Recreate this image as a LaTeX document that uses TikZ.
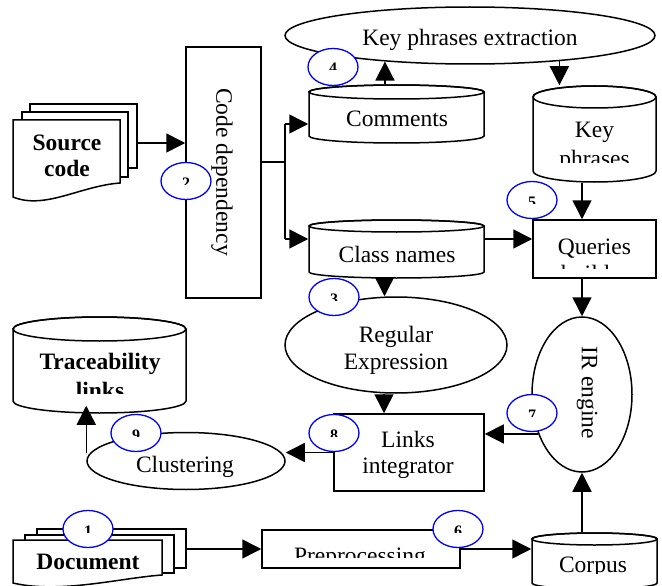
\documentclass[tikz,border=0pt]{standalone}
\usepackage{fontspec}
\setmainfont{Liberation Serif}
\usetikzlibrary{shapes.geometric,arrows.meta}

\tikzset{
  flow/.style={-{Triangle[length=19pt,width=19pt]}},
  proc/.style={draw, fill=white, inner sep=0pt},
  oval/.style={ellipse, draw, fill=white, inner sep=0pt},
  stepmark/.style={ellipse, draw=blue, fill=white, line width=1.3pt, minimum width=50pt, minimum height=37pt, inner sep=0pt},
  txt/.style={anchor=base, inner sep=0pt, font=\fontsize{23.5}{28}\selectfont},
  btxt/.style={txt, font=\fontsize{23.5}{28}\selectfont\bfseries},
  numtxt/.style={anchor=base, inner sep=0pt, font=\fontsize{16}{16}\selectfont\bfseries}
}

\newcommand\drum[6]{
  \node[inner sep=0pt, minimum width={(#4-#2)*1pt}, minimum height={(#5-#3)*1pt}] (#1) at ({(#2+#4)/2},{(#3+#5)/2}) {};
  \draw[fill=white] (#2,{#3+#6}) -- (#2,{#5-#6})
    arc[start angle=180, end angle=360, x radius={(#4-#2)/2*1pt}, y radius=#6pt]
    -- (#4,{#3+#6})
    arc[start angle=0, end angle=180, x radius={(#4-#2)/2*1pt}, y radius=#6pt] -- cycle;
  \draw ({(#2+#4)/2},{#3+#6}) ellipse[x radius={(#4-#2)/2*1pt}, y radius=#6pt];
}

\newcommand\stepno[4]{
  \node[stepmark] (#1) at (#2,#3) {};
  \begin{scope}
    \clip ({#2-15},{#3-15}) rectangle ({#2+15},{#3+3});
    \node[numtxt] (#1n) at (#2,{#3+7}) {#4};
  \end{scope}
}

\begin{document}
\begin{tikzpicture}[x=1pt, y=-1pt, line width=1.5pt]
\fill[white] (0,0) rectangle (662,586);
\useasboundingbox (0,0) rectangle (662,586);

\draw[fill=white] (30,104) rectangle (137,168);
\draw[fill=white] (22,112) rectangle (128,177);
\draw[fill=white] (13,120) -- (120,120) -- (120,183) .. controls (80,186) and (45,210) .. (13,197) -- cycle;
\node[btxt] (src) at (67,150) {Source};
\node[btxt] (src2) at (67,176) {code};
\coordinate (srcout) at (137,143);

\draw[fill=white] (37,529) rectangle (186,568);
\draw[fill=white] (25,535) rectangle (174,573);
\draw[fill=white] (13,540) -- (162,540) -- (162,575) .. controls (120,578) and (60,594) .. (13,583) -- cycle;
\node[btxt] (doc) at (88,569) {Document};
\coordinate (docout) at (186,549);

\node[proc, minimum width=75pt, minimum height=251pt] (dep) at (223.5,172.5) {};
\node[txt, anchor=center, rotate=-90] (deptext) at (222,172) {Code dependency};
\node[oval, minimum width=370pt, minimum height=57pt] (kpe) at (470,35.5) {};
\node[txt] (kpetext) at (470,46) {Key phrases extraction};

\drum{com}{309}{85}{484}{143}{7}
\node[txt] (comtext) at (397,127) {Comments};
\drum{cls}{309}{220}{484}{278}{6}
\node[txt] (clstext) at (397,262) {Class names};
\drum{kp}{533}{86}{656}{182}{11}
\begin{scope}
  \clip (533,86) rectangle (656,162);
  \node[txt] (kptext) at (594.5,138) {Key};
  \node[txt] (kptext2) at (594.5,166) {phrases};
\end{scope}

\node[proc, minimum width=123pt, minimum height=58pt] (qb) at (594.5,249) {};
\begin{scope}
  \clip (533,220) rectangle (656,268);
  \node[txt] (qbtext) at (594.5,254) {Queries};
  \node[txt] (qbtext2) at (594.5,281) {builder};
\end{scope}
\node[oval, minimum width=222pt, minimum height=96pt] (re) at (396,345) {};
\node[txt] (retext) at (396,342) {Regular};
\node[txt] (retext2) at (396,369) {Expression};
\node[oval, minimum width=100pt, minimum height=155pt] (ir) at (582,394.5) {};
\node[txt, anchor=center, rotate=-90] (irtext) at (587,393) {IR engine};
\node[proc, minimum width=150pt, minimum height=77pt] (li) at (409,452.5) {};
\node[txt] (litext) at (408,447) {Links};
\node[txt] (litext2) at (408,473) {integrator};

\drum{tl}{13}{317}{186}{413}{12}
\begin{scope}
  \clip (13,317) rectangle (186,393);
  \node[btxt] (tltext) at (100,369) {Traceability};
  \node[btxt] (tltext2) at (100,398) {links};
\end{scope}
\node[oval, minimum width=198pt, minimum height=57pt] (cl) at (186,461) {};
\node[txt] (cltext) at (185,472) {Clustering};
\node[proc, minimum width=198pt, minimum height=38pt] (pre) at (361,549) {};
\begin{scope}
  \clip (262,530) rectangle (460,557);
  \node[txt] (pretext) at (360,563) {Preprocessing};
\end{scope}
\drum{cor}{532}{533}{657}{589}{6}
\begin{scope}
  \clip (532,533) rectangle (657,573);
  \node[txt] (cortext) at (593,572) {Corpus};
\end{scope}

\coordinate (fork) at (285,162);
\coordinate (forkup) at (285,124);
\coordinate (forkdn) at (285,239);
\draw[flow] (srcout) -- (srcout -| dep.west);
\draw (fork -| dep.east) -- (fork);
\draw (forkup) -- (forkdn);
\draw[flow] (forkup) -- (forkup -| com.west);
\draw[flow] (forkdn) -- (forkdn -| cls.west);
\draw[flow] (kpe.197 |- com.north) -- (kpe.197);
\draw[flow] (kpe.344) -- (kpe.344 |- kp.north);
\draw[flow] (ir.north |- kp.south) -- (ir.north |- qb.north);
\draw[flow] (forkdn -| cls.east) -- (forkdn -| qb.west);
\draw[flow] (ir.north |- qb.south) -- (ir.north);
\draw[flow] ([xshift=-12pt]cls.south) -- ([xshift=-12pt]cls.south |- re.north);
\draw[flow] ([xshift=-12pt]re.south) -- ([xshift=-12pt]re.south |- li.north);
\draw[flow] (ir.222) -- (ir.222 -| li.east);
\draw[flow] (li.west) -- (li.west -| cl.east);
\draw[flow] ([yshift=8pt]cl.west) -- ([yshift=8pt]cl.west |- tl.south);
\draw[flow] (docout) -- (docout -| pre.west);
\draw[flow] (pre.east) -- (pre.east -| cor.west);
\draw[flow] (ir.south |- cor.north) -- (ir.south);

\stepno{s1}{88}{529}{1}
\stepno{s2}{186}{181}{2}
\stepno{s3}{334}{297}{3}
\stepno{s4}{333}{67}{4}
\stepno{s5}{532}{200}{5}
\stepno{s6}{458}{529}{6}
\stepno{s7}{532}{413}{7}
\stepno{s8}{334}{433}{8}
\stepno{s9}{136}{433}{9}
\end{tikzpicture}
\end{document}
